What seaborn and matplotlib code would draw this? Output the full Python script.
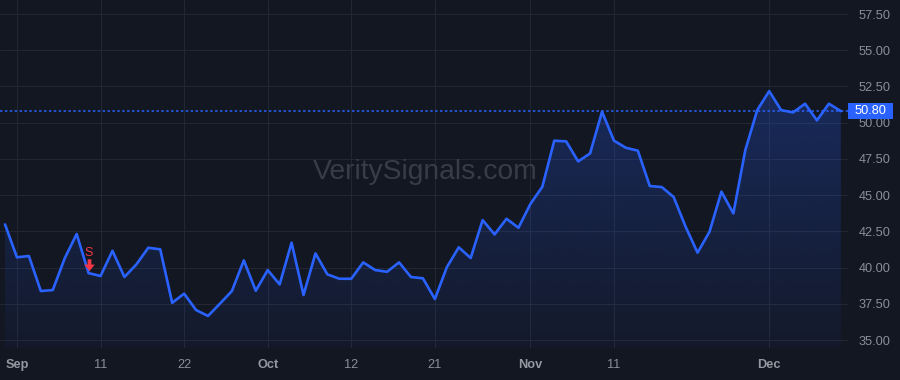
import numpy as np
import pandas as pd
import matplotlib
matplotlib.use("Agg")
import matplotlib.pyplot as plt
import seaborn as sns
from matplotlib.colors import LinearSegmentedColormap
from matplotlib.patches import PathPatch, Rectangle
from matplotlib.path import Path
from matplotlib.transforms import ScaledTranslation

# ---------------- data ----------------
values = [
    42.98, 40.71, 40.80, 38.38, 38.45, 40.64, 42.32, 39.62, 39.42, 41.16,
    39.35, 40.22, 41.37, 41.26, 37.57, 38.20, 37.07, 36.66, 37.51, 38.38,
    40.50, 38.40, 39.83, 38.84, 41.72, 38.11, 40.98, 39.53, 39.23, 39.23,
    40.36, 39.83, 39.71, 40.36, 39.35, 39.26, 37.83, 40.02, 41.40, 40.66,
    43.28, 42.29, 43.37, 42.75, 44.39, 45.58, 48.76, 48.71, 47.33, 47.88,
    50.76, 48.76, 48.27, 48.07, 45.63, 45.56, 44.87, 42.82, 41.03, 42.47,
    45.24, 43.74, 48.11, 50.87, 52.18, 50.87, 50.71, 51.31, 50.16, 51.31,
    50.80,
]
tick_pos = [1, 8, 15, 22, 29, 36, 44, 51, 64]
tick_labels = ["Sep", "11", "22", "Oct", "12", "21", "Nov", "11", "Dec"]
month_labels = ["Sep", "Oct", "Nov", "Dec"]
y_ticks = [35.0, 37.5, 40.0, 42.5, 45.0, 47.5, 50.0, 52.5, 55.0, 57.5]
last_price = 50.80
signal_idx = 7
signal_text = "S"
watermark = "VeritySignals.com"

# ---------------- style ----------------
BG = "#131722"
GRID = "#232733"
LINE = "#2962ff"
TXT = "#8b8e97"
RED = "#f23645"

sns.set_theme(style="dark")
plt.rcParams["font.family"] = ["Liberation Sans", "DejaVu Sans"]

W, H = 900, 380
fig = plt.figure(figsize=(W / 100, H / 100), dpi=100, facecolor=BG)
plot_w, plot_h = 848, 348
ax = fig.add_axes([0, (H - plot_h) / H, plot_w / W, plot_h / H])
ax.set_facecolor(BG)

df = pd.DataFrame({"i": np.arange(len(values)), "v": values})

ylo, yhi = 34.45, 58.47
ax.set_ylim(ylo, yhi)
ax.set_xlim(-0.42, 70.6)

sns.lineplot(data=df, x="i", y="v", ax=ax, color=LINE, linewidth=1.9, zorder=3)

# gradient area fill
fb = ax.fill_between(df["i"], df["v"], ylo, color="none", linewidth=0)
path = fb.get_paths()[0]
patch = PathPatch(path, transform=ax.transData, facecolor="none", edgecolor="none")
ax.add_patch(patch)
cmap = LinearSegmentedColormap.from_list(
    "g", [(41 / 255, 98 / 255, 1, 0.04), (41 / 255, 98 / 255, 1, 0.26)]
)
grad = np.linspace(0, 1, 256).reshape(-1, 1)
im = ax.imshow(grad, extent=[0, len(values) - 1, ylo, max(values)], origin="lower",
               cmap=cmap, aspect="auto", zorder=2, interpolation="bicubic")
im.set_clip_path(patch)

# grid and ticks
ax.set_xticks(tick_pos)
ax.set_xticklabels(tick_labels)
ax.set_yticks(y_ticks)
ax.set_yticklabels([f"{t:.2f}" for t in y_ticks])
ax.grid(True, color=GRID, linewidth=0.8)
ax.set_axisbelow(True)
ax.yaxis.tick_right()
ax.tick_params(axis="y", length=0, pad=7.5, labelcolor=TXT, labelsize=9.2)
ax.tick_params(axis="x", length=0, pad=8, labelcolor=TXT, labelsize=9.2)
for lab in ax.get_xticklabels():
    if lab.get_text() in month_labels:
        lab.set_fontweight("bold")
        lab.set_color("#9598a1")
ax.set_xlabel("")
ax.set_ylabel("")
for s in ax.spines.values():
    s.set_visible(False)

# last price dotted line
ax.axhline(last_price, color=LINE, linestyle=(0, (1.6, 1.6)), linewidth=1.1, zorder=2.5)

# last price label box
fig.canvas.draw()
ypx = ax.transData.transform((0, last_price))[1]
box_h = 16
fig.add_artist(Rectangle((plot_w / W, (ypx - box_h / 2) / H), 45 / W, box_h / H,
                         transform=fig.transFigure, facecolor=LINE, edgecolor="none", zorder=5))
fig.text((plot_w + 22.5) / W, ypx / H, f"{last_price:.2f}", ha="center", va="center",
         color="white", fontsize=9.2, zorder=6)

# watermark
ax.text(0.501, 0.506, watermark, transform=ax.transAxes, ha="center", va="center",
        fontsize=20.3, color="#383c48", zorder=1)

# signal marker
sx, sy = signal_idx, values[signal_idx]
arrow = Path([(-0.3, 1.0), (0.3, 1.0), (0.3, 0.15), (0.85, 0.15), (0.0, -0.9),
              (-0.85, 0.15), (-0.3, 0.15), (-0.3, 1.0)],
             [Path.MOVETO] + [Path.LINETO] * 6 + [Path.CLOSEPOLY])
tr_arrow = ax.transData + ScaledTranslation(0.9 / 100, 8 / 100, fig.dpi_scale_trans)
ax.plot([sx], [sy], marker=arrow, markersize=9, color=RED, markeredgewidth=0,
        linestyle="none", transform=tr_arrow, zorder=4)
tr_text = ax.transData + ScaledTranslation(0, 20.5 / 100, fig.dpi_scale_trans)
ax.text(sx, sy, signal_text, transform=tr_text, ha="center", va="center",
        color=RED, fontsize=9, zorder=4)

fig.savefig("out.png", dpi=100, facecolor=BG)
